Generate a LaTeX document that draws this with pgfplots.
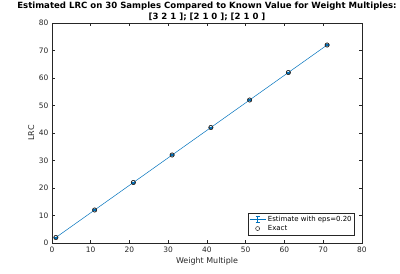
\documentclass[border=0pt]{standalone}
\usepackage{pgfplots}
\pgfplotsset{compat=1.18}
\usepackage{fontspec}
\setmainfont{DejaVu Sans}
\definecolor{mblue}{rgb}{0,0.447,0.741}
\definecolor{axgray}{rgb}{0.15,0.15,0.15}
\begin{document}
\begin{tikzpicture}
\path[use as bounding box] (0bp,0bp) rectangle (400bp,274bp);
\begin{axis}[
  at={(52bp,31bp)}, anchor=south west,
  scale only axis, width=310bp, height=220bp,
  xmin=0, xmax=80, ymin=0, ymax=80,
  xtick={0,10,...,80}, ytick={0,10,...,80},
  tick align=inside, xtick pos=both, ytick pos=both,
  major tick length=3bp,
  axis line style={axgray, line width=0.5bp},
  tick style={axgray, line width=0.5bp},
  tick label style={font=\fontsize{7.5}{9}\selectfont, text=axgray},
  /pgf/number format/assume math mode=true,
  xlabel={Weight Multiple}, ylabel={LRC},
  label style={font=\fontsize{8}{9}\selectfont, text=axgray},
  xlabel style={yshift=2bp},
  ylabel style={yshift=-2bp},
  every axis title shift=0pt,
  title={Estimated LRC on 30 Samples Compared to Known Value for Weight Multiples:\\{[3 2 1 ]; [2 1 0 ]; [2 1 0 ]}},
  title style={font=\bfseries\fontsize{8.6}{11}\selectfont, align=center, inner sep=0pt, yshift=2bp},
  legend style={at={(0.977,0.036)}, anchor=south east, font=\fontsize{7}{7.5}\selectfont,
    draw=axgray, line width=0.5bp, inner sep=1bp, row sep=-1.8bp, fill=white},
  legend cell align=left,
]
\addplot[mblue, line width=0.5bp, mark=o, mark size=2bp,
  mark options={draw=axgray, fill=mblue, solid},
  legend image code/.code={
    \draw[mblue, line width=0.5bp] (0bp,0bp) -- (16bp,0bp);
    \draw[mblue, line width=0.5bp] (8bp,-3bp) -- (8bp,3bp);
    \draw[mblue, line width=0.5bp] (6bp,-3bp) -- (10bp,-3bp);
    \draw[mblue, line width=0.5bp] (6bp,3bp) -- (10bp,3bp);
  },
  error bars/.cd, y dir=both, y explicit, error bar style={mblue},
  error mark options={rotate=90, mark size=2bp, mblue}]
  coordinates {
  (1,2) +- (0,0.2)
  (11,12) +- (0,0.2)
  (21,22) +- (0,0.2)
  (31,32) +- (0,0.2)
  (41,42) +- (0,0.2)
  (51,52) +- (0,0.2)
  (61,62) +- (0,0.2)
  (71,72) +- (0,0.2)
  };
\addlegendentry{Estimate with eps=0.20}
\addplot[only marks, mark=o, mark size=2.2bp, axgray, line width=0.5bp,
  legend image code/.code={\draw[axgray, line width=0.5bp] (8bp,0bp) circle (2bp);}]
  coordinates {(1,2) (11,12) (21,22) (31,32) (41,42) (51,52) (61,62) (71,72)};
\addlegendentry{Exact}
\end{axis}
\end{tikzpicture}
\end{document}
